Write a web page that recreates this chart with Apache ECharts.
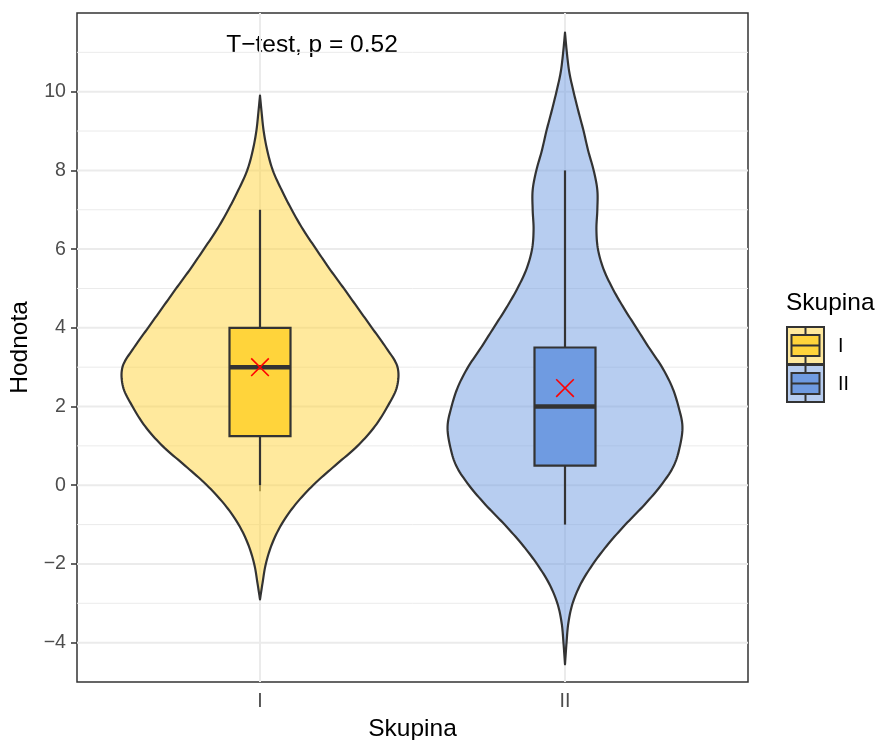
<!DOCTYPE html>
<html><head><meta charset="utf-8">
<script src="https://cdn.jsdelivr.net/npm/echarts@6/dist/echarts.min.js"></script>
<style>html,body{margin:0;padding:0;background:#fff}#c{width:880px;height:740px}</style>
</head><body><div id="c"></div>
<script>
// ---------- data ----------
const categories = ['I', 'II'];
// violin outline: value (y) and half-width (in category units)
const violinValuesI = [-2.9, -2.5, -2, -1.5, -1, -0.5, 0, 0.5, 1, 1.5, 2, 2.5, 3, 3.5, 4, 4.5, 5, 5.5, 6, 6.5, 7, 7.5, 8, 8.5, 9, 9.5, 9.9];
const violinWidthI  = [0, 0.008, 0.019, 0.039, 0.070, 0.115, 0.174, 0.246, 0.320, 0.377, 0.418, 0.449, 0.451, 0.413, 0.367, 0.321, 0.275, 0.228, 0.184, 0.141, 0.104, 0.071, 0.042, 0.024, 0.012, 0.005, 0];
const violinValuesII = [-4.55, -4, -3.5, -3, -2.5, -2, -1.5, -1, -0.5, 0, 0.5, 1, 1.5, 2, 2.5, 3, 3.5, 4, 4.5, 5, 5.5, 6, 6.5, 7, 7.5, 8, 8.5, 9, 9.5, 10, 10.5, 11, 11.5];
const violinWidthII  = [0, 0.005, 0.011, 0.025, 0.052, 0.092, 0.141, 0.198, 0.260, 0.315, 0.357, 0.377, 0.385, 0.372, 0.351, 0.318, 0.275, 0.234, 0.193, 0.156, 0.126, 0.108, 0.103, 0.106, 0.106, 0.094, 0.076, 0.061, 0.044, 0.028, 0.014, 0.006, 0];
const whiskerLow  = [0, -1];
const q1          = [1.25, 0.5];
const medians     = [3, 2];
const q3          = [4, 3.5];
const whiskerHigh = [7, 8];
const means       = [3.0, 2.47];
const yMajorTicks = [-4, -2, 0, 2, 4, 6, 8, 10];
const yMinorTicks = [-3, -1, 1, 3, 5, 7, 9, 11];
const annotationText = 'T\u2212test, p = 0.52';
const legendTitle = 'Skupina';
const xTitle = 'Skupina';
const yTitle = 'Hodnota';

// ---------- styles ----------
const FONT = '"Liberation Sans", Arial, Helvetica, sans-serif';
const violinFill = ['rgba(255,212,59,0.5)', 'rgba(111,155,225,0.5)'];
const boxFill = ['#FFD43B', '#6F9BE1'];
const OUTLINE = '#333333';
const BOX_HALF = 0.1;
const violinValues = [violinValuesI, violinValuesII];
const violinWidths = [violinWidthI, violinWidthII];

const chart = echarts.init(document.getElementById('c'), null, {renderer: 'canvas'});

// centripetal Catmull-Rom smoothing of an outline already mapped to pixels
function smoothOutline(pts, steps) {
  const n = pts.length;
  const out = [pts[0]];
  const d = (a, b) => Math.max(Math.pow(Math.hypot(b[0] - a[0], b[1] - a[1]), 0.5), 1e-4);
  for (let i = 0; i < n - 1; i++) {
    const p0 = pts[Math.max(i - 1, 0)], p1 = pts[i], p2 = pts[i + 1], p3 = pts[Math.min(i + 2, n - 1)];
    const t0 = 0, t1 = t0 + d(p0, p1), t2 = t1 + d(p1, p2), t3 = t2 + d(p2, p3);
    for (let s = 1; s <= steps; s++) {
      const t = t1 + (t2 - t1) * s / steps;
      const lerp = (a, b, ta, tb) => [
        (tb - t) / (tb - ta) * a[0] + (t - ta) / (tb - ta) * b[0],
        (tb - t) / (tb - ta) * a[1] + (t - ta) / (tb - ta) * b[1]];
      const A1 = lerp(p0, p1, t0, t1), A2 = lerp(p1, p2, t1, t2), A3 = lerp(p2, p3, t2, t3);
      const B1 = lerp(A1, A2, t0, t2), B2 = lerp(A2, A3, t1, t3);
      out.push(lerp(B1, B2, t1, t2));
    }
  }
  return out;
}

function gridLineItem(params, api) {
  const v = api.value(0);
  const major = api.value(1) === 1;
  const a = api.coord([0.4, v]);
  const b = api.coord([2.6, v]);
  return {type: 'line', shape: {x1: a[0], y1: a[1], x2: b[0], y2: b[1]},
    style: {stroke: '#EBEBEB', lineWidth: major ? 2 : 1}};
}
function vGridItem(params, api) {
  const x = api.value(0);
  const a = api.coord([x, -5]);
  const b = api.coord([x, 12]);
  return {type: 'line', shape: {x1: a[0], y1: a[1], x2: b[0], y2: b[1]},
    style: {stroke: '#EBEBEB', lineWidth: 2}};
}
function violinItem(params, api) {
  const i = params.dataIndex;
  const c = i + 1;
  const ys = violinValues[i], ws = violinWidths[i];
  const right = [], left = [];
  for (let k = 0; k < ys.length; k++) right.push(api.coord([c + ws[k], ys[k]]));
  for (let k = ys.length - 1; k >= 0; k--) left.push(api.coord([c - ws[k], ys[k]]));
  const pts = smoothOutline(right, 10).concat(smoothOutline(left, 10));
  return {type: 'polygon', shape: {points: pts},
    style: {fill: violinFill[i], stroke: OUTLINE, lineWidth: 2.2, lineJoin: 'round'}};
}
function boxItem(params, api) {
  const i = params.dataIndex;
  const c = i + 1;
  const tl = api.coord([c - BOX_HALF, q3[i]]);
  const br = api.coord([c + BOX_HALF, q1[i]]);
  const wt = api.coord([c, whiskerHigh[i]]);
  const wb = api.coord([c, whiskerLow[i]]);
  const ml = api.coord([c - BOX_HALF, medians[i]]);
  const mr = api.coord([c + BOX_HALF, medians[i]]);
  const mean = api.coord([c, means[i]]);
  const s = 8.8;
  return {type: 'group', children: [
    {type: 'line', shape: {x1: wt[0], y1: wt[1], x2: wt[0], y2: tl[1]}, style: {stroke: OUTLINE, lineWidth: 2.2}},
    {type: 'line', shape: {x1: wb[0], y1: br[1], x2: wb[0], y2: wb[1]}, style: {stroke: OUTLINE, lineWidth: 2.2}},
    {type: 'rect', shape: {x: tl[0], y: tl[1], width: br[0] - tl[0], height: br[1] - tl[1]},
      style: {fill: boxFill[i], stroke: OUTLINE, lineWidth: 2.2}},
    {type: 'line', shape: {x1: ml[0], y1: ml[1], x2: mr[0], y2: mr[1]}, style: {stroke: OUTLINE, lineWidth: 4.5}},
    {type: 'line', shape: {x1: mean[0] - s, y1: mean[1] - s, x2: mean[0] + s, y2: mean[1] + s}, style: {stroke: '#FF0000', lineWidth: 1.6}},
    {type: 'line', shape: {x1: mean[0] - s, y1: mean[1] + s, x2: mean[0] + s, y2: mean[1] - s}, style: {stroke: '#FF0000', lineWidth: 1.6}}
  ]};
}

// legend keys (graphic)
function legendKey(y, i) {
  const x = 787, w = 37, h = 37, cx = x + w / 2;
  return [
    {type: 'rect', shape: {x: x, y: y, width: w, height: h}, style: {fill: violinFill[i], stroke: OUTLINE, lineWidth: 2}},
    {type: 'line', shape: {x1: cx, y1: y, x2: cx, y2: y + 8}, style: {stroke: OUTLINE, lineWidth: 2}},
    {type: 'line', shape: {x1: cx, y1: y + h - 8, x2: cx, y2: y + h}, style: {stroke: OUTLINE, lineWidth: 2}},
    {type: 'rect', shape: {x: x + 4.5, y: y + 8, width: w - 9, height: h - 16}, style: {fill: boxFill[i], stroke: OUTLINE, lineWidth: 2}},
    {type: 'line', shape: {x1: x + 4.5, y1: y + h / 2, x2: x + w - 4.5, y2: y + h / 2}, style: {stroke: OUTLINE, lineWidth: 2}},
    {type: 'text', x: 838, y: y + h / 2 + 1.5, style: {text: categories[i], font: '19.6px ' + FONT, fill: '#000', verticalAlign: 'middle', align: 'left'}}
  ];
}

const option = {
  animation: false,
  backgroundColor: '#fff',
  grid: {left: 77, top: 13, right: 132, bottom: 58, containLabel: false, outerBoundsMode: 'none',
    show: true, borderColor: OUTLINE, borderWidth: 1.5, backgroundColor: 'transparent'},
  xAxis: {
    type: 'value', min: 0.4, max: 2.6,
    name: xTitle, nameLocation: 'middle', nameGap: 30,
    nameTextStyle: {fontFamily: FONT, fontSize: 24.5, color: '#000'},
    axisLine: {show: false},
    axisTick: {show: true, customValues: [1, 2], length: 6, lineStyle: {color: OUTLINE, width: 1.5}},
    axisLabel: {customValues: [1, 2], formatter: v => categories[Math.round(v) - 1], margin: 10,
      fontFamily: FONT, fontSize: 19.6, color: '#4D4D4D'},
    splitLine: {show: false}
  },
  yAxis: {
    type: 'value', min: -5, max: 12,
    name: yTitle, nameLocation: 'middle', nameGap: 42, nameRotate: 90,
    nameTextStyle: {fontFamily: FONT, fontSize: 24.5, color: '#000'},
    axisLine: {show: false},
    axisTick: {show: true, customValues: yMajorTicks, length: 6, lineStyle: {color: OUTLINE, width: 1.5}},
    axisLabel: {customValues: yMajorTicks, formatter: v => (v < 0 ? '\u2212' + Math.abs(v) : String(v)), margin: 11,
      fontFamily: FONT, fontSize: 19.6, color: '#4D4D4D'},
    splitLine: {show: false}
  },
  series: [
    {type: 'custom', name: 'gridH', silent: true, z: 0, renderItem: gridLineItem,
      data: yMinorTicks.map(v => [v, 0]).concat(yMajorTicks.map(v => [v, 1]))},
    {type: 'custom', name: 'gridV', silent: true, z: 0, renderItem: vGridItem,
      data: categories.map((c, i) => [i + 1])},
    {type: 'custom', name: 'violin', silent: true, z: 2, renderItem: violinItem,
      data: categories.map((c, i) => [i + 1])},
    {type: 'custom', name: 'box', silent: true, z: 3, renderItem: boxItem,
      data: categories.map((c, i) => [i + 1, medians[i]])}
  ],
  graphic: [
    {type: 'text', x: 312, y: 45, style: {text: annotationText, font: '24.5px ' + FONT, fill: '#000', align: 'center', verticalAlign: 'middle'}},
    {type: 'text', x: 786, y: 303, style: {text: legendTitle, font: '24.5px ' + FONT, fill: '#000', align: 'left', verticalAlign: 'middle'}}
  ].concat(legendKey(327, 0), legendKey(365, 1))
};
chart.setOption(option);
</script>
</body></html>
